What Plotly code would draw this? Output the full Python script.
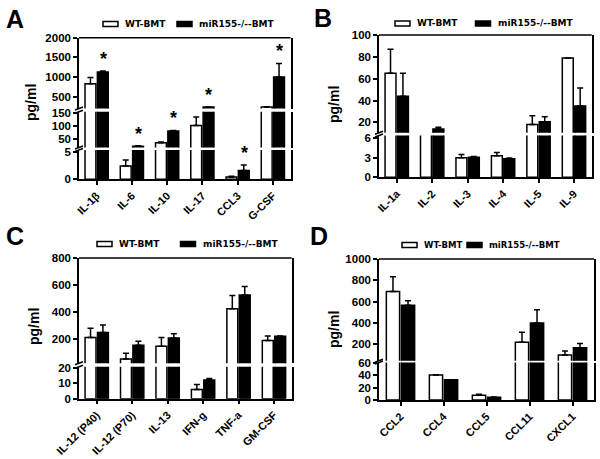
import plotly.graph_objects as go

W, H = 600, 459

# ---------------- data ----------------
a_cats = ["IL-1β", "IL-6", "IL-10", "IL-17", "CCL3", "G-CSF"]
a_wt = [830, 2.4, 34, 102, 0.4, 235]
a_wt_err = [155, 1.1, 3, 33, 0.15, 10]
a_ko = [1130, 20, 80, 235, 1.6, 1000]
a_ko_err = [25, 1.5, 2, 6, 1.0, 345]
a_sig = [True, True, True, True, True, True]

b_cats = ["IL-1a", "IL-2", "IL-3", "IL-4", "IL-5", "IL-9"]
b_wt = [65, 7, 3.0, 3.3, 18, 79]
b_wt_err = [22, 4.5, 0.5, 0.5, 8, 0]
b_ko = [44, 14, 3.1, 2.85, 20.5, 35]
b_ko_err = [21, 1.5, 0.1, 0.1, 4.5, 16.5]

c_cats = ["IL-12 (P40)", "IL-12 (P70)", "IL-13", "IFN-g", "TNF-a", "GM-CSF"]
c_wt = [212, 52, 146, 6, 425, 188]
c_wt_err = [67, 42, 66, 3.4, 97, 35]
c_ko = [249, 153, 207, 12.2, 526, 220]
c_ko_err = [55, 30, 32, 1, 62, 3]

d_cats = ["CCL2", "CCL4", "CCL5", "CCL11", "CXCL1"]
d_wt = [694, 40, 7.6, 216, 97]
d_wt_err = [138, 0.5, 1.5, 94, 37]
d_ko = [565, 32.4, 4.5, 397, 165]
d_ko_err = [41, 0.3, 0.3, 125, 41]

series_names = ["WT-BMT", "miR155-/--BMT"]

# ---------------- layout of panels (pixels) ----------------
panels = [
    dict(letter="A", cats=a_cats, wt=a_wt, wte=a_wt_err, ko=a_ko, koe=a_ko_err, sig=a_sig,
         x0=79, x1=290.5,
         segs=[(150, 179.3, [0, 5.3], [0, 5]),
               (111.7, 147.5, [15, 156], [50, 100, 150]),
               (37.7, 108.5, [200, 2000], [500, 1000, 1500, 2000])],
         letter_xy=(4, 19), title_xy=(31, 103), leg=(103, 24, 177, 9)),
    dict(letter="B", cats=b_cats, wt=b_wt, wte=b_wt_err, ko=b_ko, koe=b_ko_err, sig=None,
         x0=379, x1=591.7,
         segs=[(135.5, 177.3, [0, 6.43], [0, 3, 6]),
               (35, 132.7, [10.5, 100], [20, 40, 60, 80, 100])],
         letter_xy=(312, 18), title_xy=(334, 105), leg=(395, 23.5, 475.5, 9)),
    dict(letter="C", cats=c_cats, wt=c_wt, wte=c_wt_err, ko=c_ko, koe=c_ko_err, sig=None,
         x0=79, x1=291.7,
         segs=[(366.7, 398.7, [0, 21], [0, 10, 20]),
               (258, 363.3, [20, 800], [200, 400, 600, 800])],
         letter_xy=(4, 236), title_xy=(34, 327), leg=(97, 244, 180.5, 9)),
    dict(letter="D", cats=d_cats, wt=d_wt, wte=d_wt_err, ko=d_ko, koe=d_ko_err, sig=None,
         x0=379, x1=594,
         segs=[(362.5, 400, [0, 60.3], [0, 20, 40, 60]),
               (259, 360.7, [43, 1000], [200, 400, 600, 800, 1000])],
         letter_xy=(308, 236), title_xy=(334, 330), leg=(402, 245, 467, 8.5)),
]

FONT = "Liberation Sans"
LEG_FONT = "DejaVu Sans"
LW = 1.5

fig = go.Figure()
layout = dict(width=W, height=H, margin=dict(l=0, r=0, t=0, b=0, autoexpand=False),
              paper_bgcolor="white", plot_bgcolor="white", showlegend=False,
              barmode="group", bargap=0.3, bargroupgap=0.12)
shapes, annotations = [], []

def px_x(p):
    return p / W

def px_y(p):
    return 1 - p / H

yi = 0
for pi, p in enumerate(panels):
    xname = "x" if pi == 0 else f"x{pi + 1}"
    xkey = "xaxis" if pi == 0 else f"xaxis{pi + 1}"
    n = len(p["cats"])
    ynames = []
    for si, (pt, pb, rng, tv) in enumerate(p["segs"]):
        yi += 1
        yname = "y" if yi == 1 else f"y{yi}"
        ykey = "yaxis" if yi == 1 else f"yaxis{yi}"
        ynames.append(yname)
        layout[ykey] = dict(domain=[px_y(pb), px_y(pt)], anchor=xname, range=rng,
                            tickvals=tv, showline=True, linecolor="black", linewidth=LW,
                            mirror=True, ticks="outside", ticklen=4, tickwidth=LW,
                            tickcolor="black", showgrid=False, zeroline=False,
                            automargin=False,
                            tickfont=dict(family=FONT, size=11.5, color="black", weight="bold"),
                            fixedrange=True)
        lo = rng[0]
        for vals, errs, fill, nm in [(p["wt"], p["wte"], "white", series_names[0]),
                                      (p["ko"], p["koe"], "black", series_names[1])]:
            # bars lying entirely below this axis segment are not drawn in it
            seg_vals = [v if v > lo else None for v in vals]
            seg_errs = [e if v > lo else 0 for v, e in zip(vals, errs)]
            fig.add_trace(go.Bar(
                x=p["cats"], y=seg_vals, name=nm, xaxis=xname, yaxis=yname,
                marker=dict(color=fill, line=dict(color="black", width=LW)),
                error_y=dict(type="data", symmetric=False, array=seg_errs,
                             arrayminus=[0] * n, color="black", thickness=LW, width=3),
                hoverinfo="skip"))
    layout[xkey] = dict(domain=[px_x(p["x0"]), px_x(p["x1"])], anchor=ynames[0],
                        type="category", range=[-0.5, n - 0.5], showline=True,
                        linecolor="black", linewidth=LW, ticks="outside", ticklen=4,
                        tickwidth=LW, tickcolor="black", tickangle=-45, showgrid=False,
                        automargin=False,
                        tickfont=dict(family=FONT, size=11, color="black", weight="bold"),
                        fixedrange=True)
    shapes.append(dict(type="line", xref=f"{xname} domain", yref=f"{ynames[-1]} domain",
                       x0=0, x1=1, y0=1, y1=1, line=dict(color="black", width=LW)))
    for k in range(len(ynames) - 1):
        for yn, anc in [(ynames[k], 1), (ynames[k + 1], 0)]:
            shapes.append(dict(type="line", xref=f"{xname} domain", yref=f"{yn} domain",
                               xsizemode="pixel", xanchor=0, x0=-4, x1=4,
                               ysizemode="pixel", yanchor=anc, y0=-1.5, y1=1.5,
                               line=dict(color="black", width=LW)))
    if p["sig"]:
        for ci, cat in enumerate(p["cats"]):
            if not p["sig"][ci]:
                continue
            top = p["ko"][ci] + p["koe"][ci]
            yref = ynames[-1]
            for yn, seg in zip(ynames, p["segs"]):
                if seg[2][0] <= top <= seg[2][1]:
                    yref = yn
                    break
            annotations.append(dict(x=cat, y=top, xref=xname, yref=yref, text="*",
                                    showarrow=False, xshift=6.5, yshift=12,
                                    font=dict(family=FONT, size=18, color="black", weight="bold")))
    lx, ly = p["letter_xy"]
    annotations.append(dict(x=px_x(lx), y=px_y(ly), xref="paper", yref="paper",
                            text=p["letter"], showarrow=False, xanchor="left", yanchor="middle",
                            font=dict(family=FONT, size=25, color="black", weight="bold")))
    tx, ty = p["title_xy"]
    annotations.append(dict(x=px_x(tx), y=px_y(ty), xref="paper", yref="paper",
                            text="pg/ml", showarrow=False, textangle=-90,
                            xanchor="center", yanchor="middle",
                            font=dict(family=FONT, size=14, color="black", weight="bold")))
    lx0, lyc, lx1, lsz = p["leg"]
    for bx, fill, nm in [(lx0, "white", series_names[0]), (lx1, "black", series_names[1])]:
        shapes.append(dict(type="rect", xref="paper", yref="paper",
                           x0=px_x(bx), x1=px_x(bx + 15), y0=px_y(lyc + 2.5), y1=px_y(lyc - 2.5),
                           fillcolor=fill, line=dict(color="black", width=LW)))
        annotations.append(dict(x=px_x(bx + 20), y=px_y(lyc), xref="paper", yref="paper",
                                text=nm, showarrow=False, xanchor="left", yanchor="middle",
                                font=dict(family=LEG_FONT, size=lsz, color="black", weight="bold")))

layout["shapes"] = shapes
layout["annotations"] = annotations
fig.update_layout(**layout)
fig.write_html("out.html", config={"displayModeBar": False},
               post_script="document.body.style.margin='0';document.body.style.overflow='hidden';")
